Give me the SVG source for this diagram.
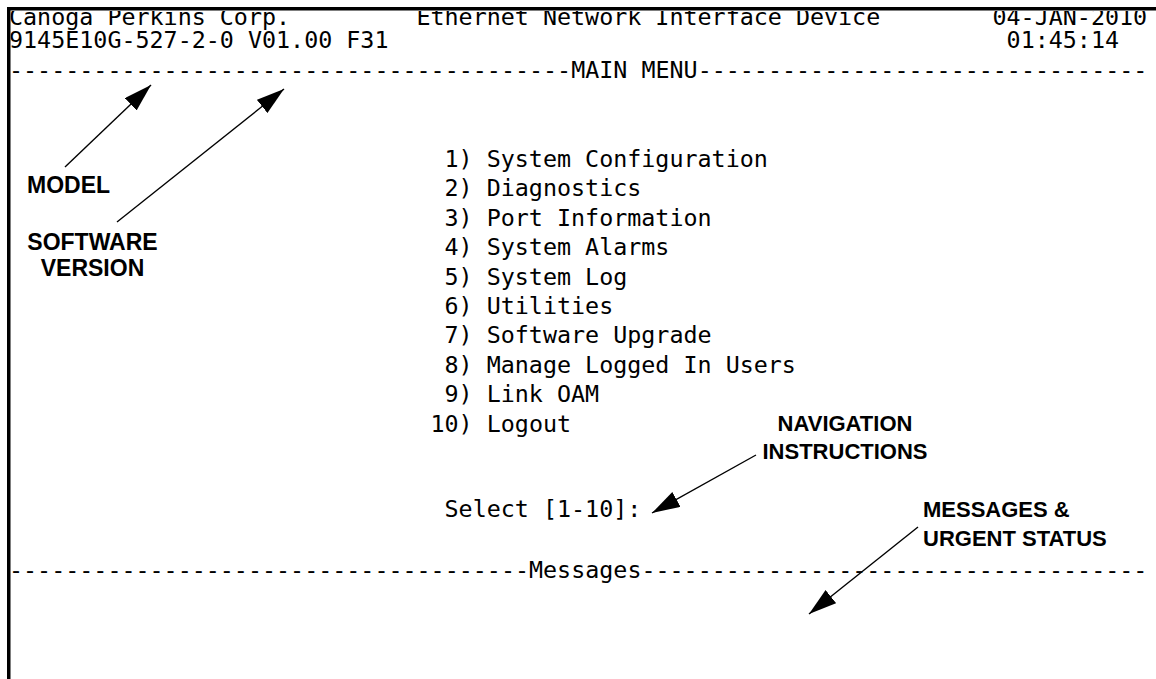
<svg xmlns="http://www.w3.org/2000/svg" width="1156" height="679" viewBox="0 0 1156 679">
<style>
.term{font-family:"DejaVu Sans Mono","Liberation Mono",monospace;font-size:23.35px;fill:#000}
.lbl{font-family:"Liberation Sans",Arial,sans-serif;font-size:22px;font-weight:bold;fill:#000}
.lbl-l{font-size:23px}
.arr{stroke:#000;stroke-width:1.4;fill:none;marker-end:url(#ah)}
</style>
<defs>
<marker id="ah" markerUnits="userSpaceOnUse" markerWidth="30" markerHeight="18" refX="28" refY="8.5" orient="auto" viewBox="0 0 30 18">
<path d="M0,0 L28,8.5 L0,17 z" fill="#000"/>
</marker>
<clipPath id="scr"><rect x="10.5" y="11" width="1146" height="668"/></clipPath>
</defs>
<rect width="1156" height="679" fill="#fff"/>
<g id="screen" clip-path="url(#scr)">
<g id="header">
<text class="term" x="9" y="25">Canoga Perkins Corp.</text>
<text class="term" x="416.45" y="25">Ethernet Network Interface Device</text>
<text class="term" x="992.5" y="25">04-JAN-2010</text>
<text class="term" x="9" y="48">9145E10G-527-2-0 V01.00 F31</text>
<text class="term" x="1006.6" y="48">01:45:14</text>
<text class="term" x="9" y="78">----------------------------------------MAIN MENU--------------------------------</text>
</g>
<g id="menu">
<text class="term" x="444.55" y="167">1) System Configuration</text>
<text class="term" x="444.55" y="196.4">2) Diagnostics</text>
<text class="term" x="444.55" y="225.8">3) Port Information</text>
<text class="term" x="444.55" y="255.2">4) System Alarms</text>
<text class="term" x="444.55" y="284.6">5) System Log</text>
<text class="term" x="444.55" y="314">6) Utilities</text>
<text class="term" x="444.55" y="343.4">7) Software Upgrade</text>
<text class="term" x="444.55" y="372.8">8) Manage Logged In Users</text>
<text class="term" x="444.55" y="402.2">9) Link OAM</text>
<text class="term" x="430.5" y="431.6">10) Logout</text>
<text class="term" x="444.55" y="517">Select [1-10]:</text>
</g>
<g id="messages">
<text class="term" x="9" y="578">-------------------------------------Messages------------------------------------</text>
</g>
</g>
<g id="border">
<rect x="7" y="7" width="1149" height="3.5" fill="#000"/>
<rect x="7" y="7" width="3.5" height="672" fill="#000"/>
</g>
<g id="label-model"><text class="lbl lbl-l" x="27" y="193">MODEL</text></g>
<g id="label-software"><text class="lbl lbl-l" x="92.5" y="250" text-anchor="middle">SOFTWARE</text><text class="lbl lbl-l" x="92.5" y="276" text-anchor="middle">VERSION</text></g>
<g id="label-navigation"><text class="lbl" x="845" y="431" text-anchor="middle">NAVIGATION</text><text class="lbl" x="845" y="459" text-anchor="middle">INSTRUCTIONS</text></g>
<g id="label-messages"><text class="lbl" x="923" y="517">MESSAGES &amp;</text><text class="lbl" x="923" y="546">URGENT STATUS</text></g>
<g id="connectors">
<line class="arr" x1="65" y1="167" x2="151" y2="85"/>
<line class="arr" x1="117" y1="222" x2="284" y2="89"/>
<line class="arr" x1="756" y1="455" x2="652" y2="513"/>
<line class="arr" x1="918" y1="527" x2="809" y2="614"/>
</g>
</svg>
